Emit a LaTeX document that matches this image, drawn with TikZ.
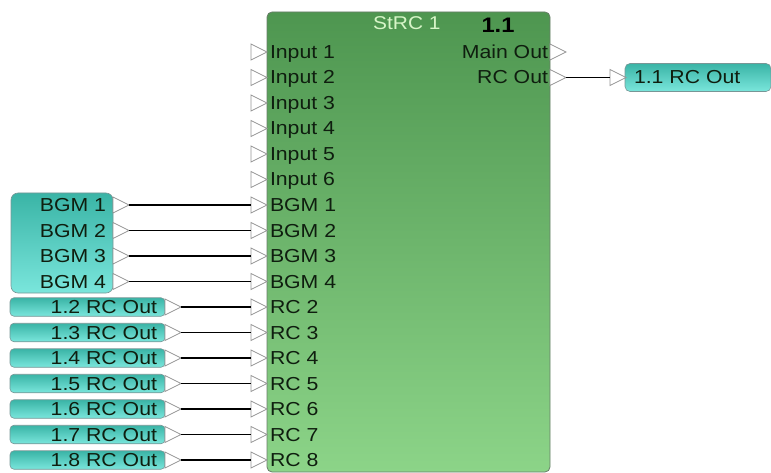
\documentclass[tikz,border=0pt]{standalone}
\usepackage{fontspec}
\setmainfont{Liberation Sans}[FakeStretch=1.13]
\usetikzlibrary{shapes.geometric}
\definecolor{grtop}{RGB}{78,150,80}
\definecolor{grbot}{RGB}{140,212,136}
\definecolor{grline}{RGB}{105,125,105}
\definecolor{tltop}{RGB}{58,180,166}
\definecolor{tlbot}{RGB}{122,230,220}
\definecolor{tlline}{RGB}{120,150,150}
\definecolor{portgray}{RGB}{150,150,150}
\definecolor{txt}{RGB}{15,30,15}
\definecolor{ttl}{RGB}{215,245,200}
\tikzset{
  block/.style={rectangle, rounded corners=5pt, draw=grline, line width=0.8pt, top color=grtop, bottom color=grbot, inner sep=0pt, outer sep=0pt},
  tealbox/.style={rectangle, rounded corners=5pt, draw=tlline, line width=0.6pt, top color=tltop, bottom color=tlbot, inner sep=0pt, outer sep=0pt},
  port/.style={isosceles triangle, isosceles triangle stretches, minimum width=16pt, minimum height=16pt, inner sep=0pt, outer sep=0pt, draw=portgray, fill=white, line width=0.8pt},
  lbl/.style={inner sep=0pt, outer sep=0pt, text=txt, font=\fontsize{18.8pt}{20pt}\selectfont},
  ttlstyle/.style={inner sep=0pt, text=ttl, font=\fontsize{18.5pt}{20pt}\selectfont},
  numstyle/.style={inner sep=0pt, text=black, font=\fontsize{21pt}{22pt}\selectfont\bfseries},
  wire/.style={draw=black, line width=1.2pt}
}
\begin{document}
\begin{tikzpicture}[x=1pt,y=-1pt]
\useasboundingbox (0,0) rectangle (771,473);
% main block
\node[block, anchor=north west, minimum width=283pt, minimum height=460pt] (strc) at (267,12) {};
\node[ttlstyle, anchor=base west] (ttl) at (373,30) {StRC 1};
\node[numstyle, anchor=base] (num) at (498,33) {1.1};
% inputs
\foreach \lab [count=\i from 0] in {Input 1,Input 2,Input 3,Input 4,Input 5,Input 6,BGM 1,BGM 2,BGM 3,BGM 4,RC 2,RC 3,RC 4,RC 5,RC 6,RC 7,RC 8}{
  \pgfmathsetmacro{\yy}{52+25.5*\i}
  \node[port, anchor=west] (in\i) at (251,\yy) {};
  \node[lbl, anchor=base west] (inl\i) at (270,\yy+6.5) {\lab};
}
% outputs
\node[port, anchor=west] (out0) at (550,52) {};
\node[lbl, anchor=base east] (outl0) at (548,58.5) {Main Out};
\node[port, anchor=west] (out1) at (550,77.5) {};
\node[lbl, anchor=base east] (outl1) at (548,84) {RC Out};
% 1.1 RC Out target
\node[tealbox, anchor=west, minimum width=146pt, minimum height=28pt] (rcbox) at (625,77.5) {};
\node[port, anchor=west] (rcin) at (610,77.5) {};
\node[lbl, anchor=base west] (rcl) at (634,84) {1.1 RC Out};
\draw[wire] (out1.apex) -- (rcin.west);
% BGM source box
\node[tealbox, anchor=north west, minimum width=102pt, minimum height=100pt, rounded corners=7pt] (bgmbox) at (11,193) {};
\foreach \i in {6,...,9}{
  \pgfmathsetmacro{\yy}{52+25.5*\i}
  \pgfmathtruncatemacro{\n}{\i-5}
  \node[lbl, anchor=base east] (bgml\i) at (106,\yy+6.5) {BGM \n};
  \node[port, anchor=west] (src\i) at (113,\yy) {};
  \draw[wire] (src\i.apex) -- (in\i.west);
}
% RC Out source boxes
\foreach \i in {10,...,16}{
  \pgfmathsetmacro{\yy}{52+25.5*\i}
  \pgfmathtruncatemacro{\n}{\i-8}
  \node[tealbox, anchor=west, minimum width=155pt, minimum height=18.5pt, rounded corners=4pt] (rcsrc\i) at (10,\yy) {};
  \node[lbl, anchor=base east] (rcsl\i) at (157,\yy+6.5) {1.\n\ RC Out};
  \node[port, anchor=west] (src\i) at (165,\yy) {};
  \draw[wire] (src\i.apex) -- (in\i.west);
}
\end{tikzpicture}
\end{document}
